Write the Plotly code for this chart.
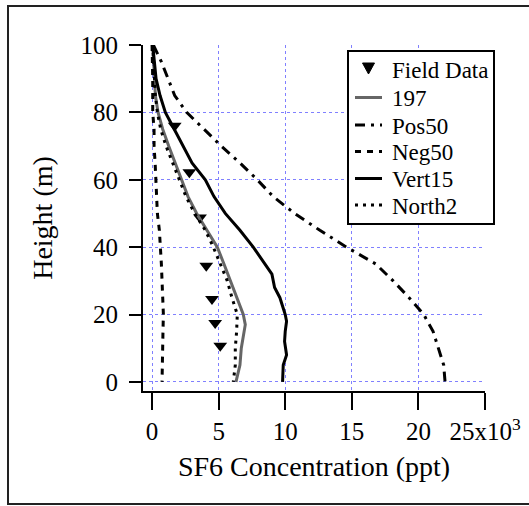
import plotly.graph_objects as go

# Heights (m)
h_197 = [100, 95, 90, 85, 80, 75, 70, 65, 60, 55, 50, 45, 40, 35, 30, 25, 20, 17, 15, 10, 5, 0]
c_197 = [0.05, 0.1, 0.2, 0.25, 0.45, 0.8, 1.25, 1.75, 2.2, 2.7, 3.35, 4.1, 4.9, 5.4, 5.9, 6.35, 6.85, 7.0, 6.9, 6.7, 6.6, 6.3]

h_north2 = [100, 95, 90, 85, 80, 75, 70, 65, 60, 55, 50, 45, 40, 35, 30, 25, 20, 15, 10, 5, 0]
c_north2 = [0.05, 0.1, 0.15, 0.25, 0.4, 0.65, 1.05, 1.55, 2.0, 2.55, 3.2, 4.0, 4.6, 5.1, 5.65, 6.0, 6.4, 6.35, 6.25, 6.25, 6.1]

h_vert15 = [100, 95, 90, 85, 80, 77, 70, 65, 60, 55, 50, 45, 40, 35, 32, 28, 25, 20, 18, 15, 12, 8, 5, 0]
c_vert15 = [0.05, 0.15, 0.3, 0.6, 1.0, 1.4, 2.35, 3.0, 4.0, 4.65, 5.5, 6.6, 7.6, 8.5, 9.0, 9.2, 9.6, 10.0, 10.1, 10.0, 9.95, 10.1, 9.85, 9.8]

h_pos50 = [100, 95, 90, 85, 80, 75, 70, 65, 60, 55, 50, 45, 40, 35, 30, 25, 20, 15, 10, 5, 0]
c_pos50 = [0.1, 0.7, 1.2, 1.7, 2.6, 3.9, 5.2, 6.6, 7.9, 9.1, 10.7, 12.6, 14.6, 16.8, 18.1, 19.3, 20.4, 21.1, 21.5, 21.9, 22.0]

h_neg50 = [100, 95, 90, 85, 80, 75, 70, 65, 60, 55, 50, 45, 40, 35, 30, 25, 20, 15, 10, 5, 0]
c_neg50 = [0.0, 0.05, 0.05, 0.05, 0.05, 0.15, 0.15, 0.23, 0.3, 0.35, 0.4, 0.55, 0.65, 0.7, 0.75, 0.8, 0.85, 0.82, 0.8, 0.75, 0.75]

field_conc = [1.7, 2.8, 3.6, 4.07, 4.5, 4.74, 5.12]
field_height = [76, 62.2, 48.8, 34.5, 24.6, 17.5, 10.7]

x_tickvals = [0, 5, 10, 15, 20, 25]
x_ticktext = ["0", "5", "10", "15", "20", "25x10<sup>3</sup>"]
y_tickvals = [0, 20, 40, 60, 80, 100]

series_names = ["Field Data", "197", "Pos50", "Neg50", "Vert15", "North2"]

FONT = "Liberation Serif"

styles = {
    "197": dict(color="#666666", width=3),
    "Pos50": dict(color="black", width=3, dash="10px,6px,3px,6px"),
    "Neg50": dict(color="black", width=3, dash="6px,6px"),
    "Vert15": dict(color="black", width=3),
    "North2": dict(color="black", width=3, dash="3px,5px"),
}

fig = go.Figure()
fig.add_trace(go.Scatter(x=field_conc, y=field_height, mode="markers", name="Field Data",
                         marker=dict(symbol="triangle-down", size=12, color="black")))
fig.add_trace(go.Scatter(x=c_197, y=h_197, mode="lines", name="197", line=styles["197"]))
fig.add_trace(go.Scatter(x=c_pos50, y=h_pos50, mode="lines", name="Pos50", line=styles["Pos50"]))
fig.add_trace(go.Scatter(x=c_neg50, y=h_neg50, mode="lines", name="Neg50", line=styles["Neg50"]))
fig.add_trace(go.Scatter(x=c_vert15, y=h_vert15, mode="lines", name="Vert15", line=styles["Vert15"]))
fig.add_trace(go.Scatter(x=c_north2, y=h_north2, mode="lines", name="North2", line=styles["North2"]))

L, R, T, B = 143, 44, 45, 115
W, H = 529, 506
pw, ph = W - L - R, H - T - B

def px(x):
    return (x - L) / pw

def py(y):
    return (H - B - y) / ph

# outer frame
fig.add_shape(type="rect", xref="paper", yref="paper",
              x0=px(8), x1=px(540), y0=py(504), y1=py(6),
              line=dict(color="#222222", width=2), fillcolor="rgba(0,0,0,0)")

# legend box (drawn manually to match the reference's compact spacing)
fig.add_shape(type="rect", xref="paper", yref="paper",
              x0=px(348), x1=px(494), y0=py(224), y1=py(51),
              line=dict(color="black", width=2), fillcolor="white", layer="above")
row_y = [69, 97.5, 125, 151.5, 178.5, 205]
for name, ry in zip(series_names, row_y):
    if name == "Field Data":
        cx = 368.5
        fig.add_shape(type="path", xref="paper", yref="paper",
                      path=f"M {px(cx-6)},{py(ry-6)} L {px(cx+6)},{py(ry-6)} L {px(cx)},{py(ry+5)} Z",
                      line=dict(color="black", width=1), fillcolor="black", layer="above")
    else:
        fig.add_shape(type="line", xref="paper", yref="paper",
                      x0=px(355), x1=px(382), y0=py(ry), y1=py(ry),
                      line=styles[name], layer="above")
    fig.add_annotation(x=px(390), y=py(ry + 1), xref="paper", yref="paper",
                       text=name, showarrow=False, xanchor="left", yanchor="middle",
                       font=dict(family=FONT, size=23, color="black"))

fig.update_layout(
    width=W, height=H,
    margin=dict(l=L, r=R, t=T, b=B, autoexpand=False),
    paper_bgcolor="white", plot_bgcolor="white",
    font=dict(family=FONT, color="black", size=25),
    showlegend=False,
    xaxis=dict(range=[-0.68, 25], tickvals=x_tickvals, ticktext=x_ticktext,
               showline=True, linecolor="black", linewidth=2,
               ticks="outside", ticklen=17, tickwidth=2, tickcolor="black",
               showgrid=True, gridcolor="#8080ff", gridwidth=1, griddash="3px,3px",
               zeroline=False,
               tickfont=dict(family=FONT, size=25),
               title=dict(text="SF6 Concentration (ppt)", font=dict(family=FONT, size=28), standoff=12)),
    yaxis=dict(range=[-2.7, 100], tickvals=y_tickvals,
               showline=True, linecolor="black", linewidth=2,
               ticks="outside", ticklen=12, tickwidth=2, tickcolor="black",
               ticklabelstandoff=6,
               showgrid=True, gridcolor="#8080ff", gridwidth=1, griddash="3px,3px",
               zeroline=False,
               tickfont=dict(family=FONT, size=25),
               title=dict(text="Height (m)", font=dict(family=FONT, size=28), standoff=20)),
)

fig.write_html("out.html", config={"displayModeBar": False},
               post_script="document.body.style.margin='0px';")
